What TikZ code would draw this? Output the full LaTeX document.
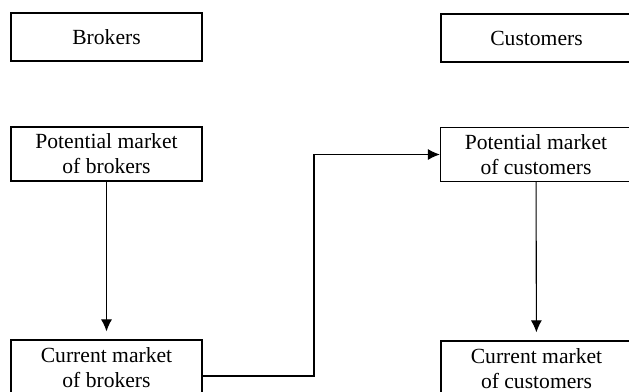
\documentclass[tikz,border=0pt]{standalone}
\usepackage{fontspec}
\setmainfont{Liberation Serif}
\usetikzlibrary{arrows.meta}
\tikzset{
    % --- styles ---
    plain_box/.style={draw, line width=0.6pt, inner sep=0pt, align=center,
                      minimum width=95.5pt, font=\fontsize{10.8}{12.6}\selectfont},
    title_box/.style={plain_box, minimum height=24pt},
    market_box/.style={plain_box, minimum height=27pt},
    flow/.style={line width=0.55pt, -{Latex[length=6pt,width=5.5pt]}}
}

\begin{document}
\begin{tikzpicture}[x=0.5pt,y=-0.5pt]
    \useasboundingbox (0,0) rectangle (629,392);

    \node[title_box] (brokers) at (106.5,37) {Brokers};
    \node[title_box] (customers) at (536.5,38) {Customers};

    \node[market_box] (potbrokers) at (106.5,154) {Potential market\\of brokers};
    \node[market_box] (potcustomers) at (536,154.5) {Potential market\\of customers};

    \node[market_box, minimum height=28pt] (curbrokers) at (106.5,368) {Current market\\of brokers};
    \node[market_box, minimum height=28pt] (curcustomers) at (536.5,369) {Current market\\of customers};

    \coordinate (turn) at (314,260);

    \draw[flow, shorten >=4pt] (potbrokers) -- (curbrokers);
    \draw[flow, shorten >=4pt] (potcustomers) -- (curcustomers);

    \draw[flow] ([yshift=-4pt]curbrokers.east) -| (turn) |- (potcustomers.west);
\end{tikzpicture}
\end{document}
